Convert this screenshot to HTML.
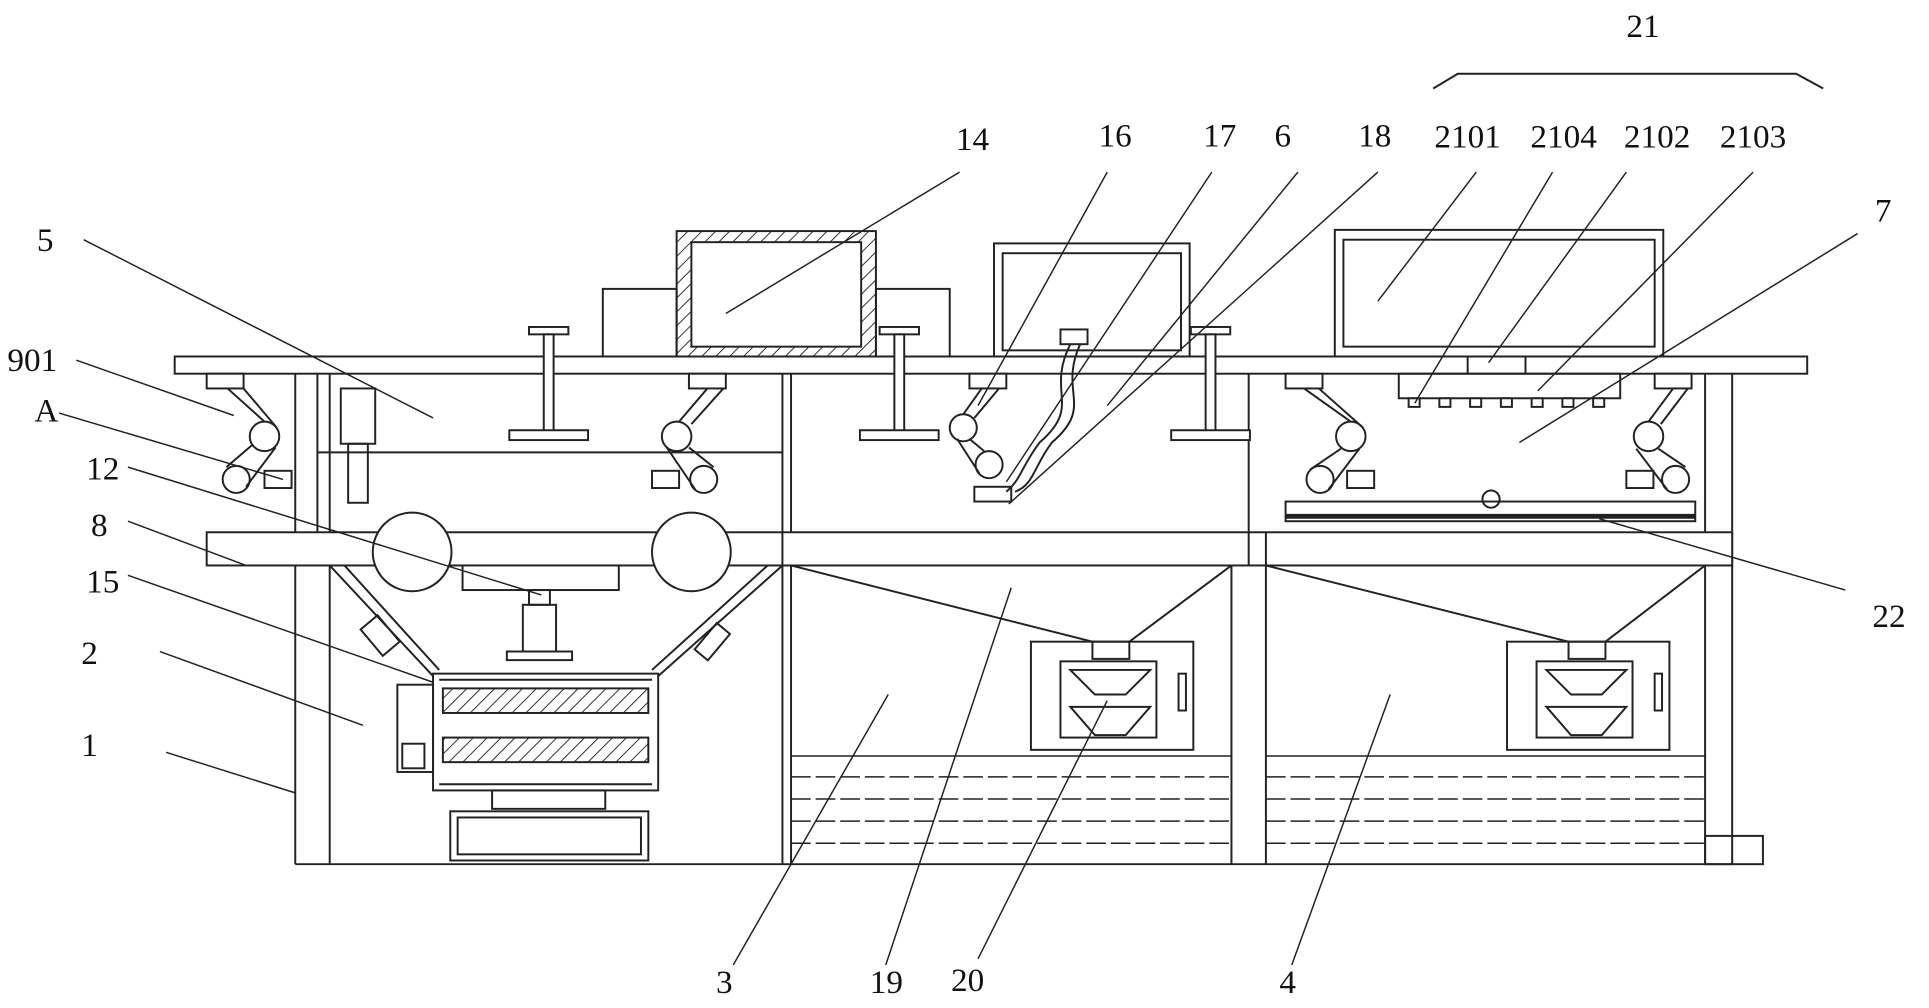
<!DOCTYPE html>
<html><head><meta charset="utf-8"><style>
html,body{margin:0;padding:0;background:#fff;}
svg{display:block;}
text{font-family:"Liberation Serif",serif;font-size:27px;fill:#111;}
</style></head><body>
<svg width="1929" height="1008" viewBox="0 0 1568 820" preserveAspectRatio="none" xmlns="http://www.w3.org/2000/svg">
<defs>
<pattern id="h" width="8" height="8" patternUnits="userSpaceOnUse" patternTransform="rotate(45)"><line x1="0" y1="0" x2="0" y2="8" stroke="#222" stroke-width="1.5"/></pattern>
</defs>
<g fill="none" stroke="#222" stroke-width="1.6">
<!-- top plate -->
<rect x="142" y="290" width="1327" height="14" fill="#fff"/>
<!-- box 14 -->
<rect x="490" y="235" width="60" height="55"/><rect x="712" y="235" width="60" height="55"/>
<rect x="550" y="188" width="162" height="102" fill="url(#h)"/>
<rect x="562" y="197" width="138" height="85" fill="#fff"/>
<!-- box 16 -->
<rect x="808" y="198" width="159" height="92"/><rect x="815" y="206" width="145" height="79"/>
<rect x="862" y="268" width="22" height="12"/>
<!-- box 2101 -->
<rect x="1085" y="187" width="267" height="103"/><rect x="1092" y="195" width="253" height="87"/>
<rect x="1137" y="304" width="180" height="20"/>
<g fill="#fff"><rect x="1145" y="324" width="9" height="7"/><rect x="1170" y="324" width="9" height="7"/><rect x="1195" y="324" width="9" height="7"/><rect x="1220" y="324" width="9" height="7"/><rect x="1245" y="324" width="9" height="7"/><rect x="1270" y="324" width="9" height="7"/><rect x="1295" y="324" width="9" height="7"/></g>
<line x1="1193" y1="290" x2="1193" y2="304"/><line x1="1240" y1="290" x2="1240" y2="304"/>
<!-- frame -->
<line x1="240" y1="304" x2="240" y2="703"/><line x1="268" y1="304" x2="268" y2="703"/>
<line x1="258" y1="304" x2="258" y2="433"/>
<line x1="636" y1="304" x2="636" y2="703"/><line x1="643" y1="304" x2="643" y2="703"/>
<line x1="1015" y1="304" x2="1015" y2="433"/>
<line x1="1001" y1="460" x2="1001" y2="703"/><line x1="1029" y1="460" x2="1029" y2="703"/>
<line x1="1386" y1="304" x2="1386" y2="703"/><line x1="1408" y1="304" x2="1408" y2="703"/>
<line x1="240" y1="703" x2="1408" y2="703"/>
<rect x="1386" y="680" width="47" height="23"/>
<line x1="258" y1="368" x2="636" y2="368"/>
<!-- rail -->
<rect x="168" y="433" width="1240" height="27" fill="#fff"/>
<line x1="636" y1="433" x2="636" y2="460"/><line x1="1015" y1="433" x2="1015" y2="460"/><line x1="1029" y1="433" x2="1029" y2="460"/>
<circle cx="335" cy="449" r="32" fill="#fff"/><circle cx="562" cy="449" r="32" fill="#fff"/>
<!-- cylinders at top -->
<g fill="#fff">
<rect x="430" y="266" width="32" height="6"/><rect x="442" y="272" width="8" height="80"/><rect x="414" y="350" width="64" height="8"/>
<rect x="715" y="266" width="32" height="6"/><rect x="727" y="272" width="8" height="80"/><rect x="699" y="350" width="64" height="8"/>
<rect x="968" y="266" width="32" height="6"/><rect x="980" y="272" width="8" height="80"/><rect x="952" y="350" width="64" height="8"/>
</g>
<!-- cylinder 5 left -->
<rect x="277" y="316" width="28" height="45"/><rect x="283" y="361" width="16" height="48"/>
<!-- arms -->
<g fill="#fff">
<rect x="168" y="304" width="30" height="12"/><circle cx="215" cy="355" r="12"/><circle cx="192" cy="390" r="11"/><rect x="215" y="383" width="22" height="14"/>
<rect x="560" y="304" width="30" height="12"/><circle cx="550" cy="355" r="12"/><circle cx="572" cy="390" r="11"/><rect x="530" y="383" width="22" height="14"/>
<rect x="788" y="304" width="30" height="12"/><circle cx="783" cy="348" r="11"/><circle cx="804" cy="378" r="11"/><rect x="792" y="396" width="30" height="12"/>
<rect x="1045" y="304" width="30" height="12"/><circle cx="1098" cy="355" r="12"/><circle cx="1073" cy="390" r="11"/><rect x="1095" y="383" width="22" height="14"/>
<rect x="1345" y="304" width="30" height="12"/><circle cx="1340" cy="355" r="12"/><circle cx="1362" cy="390" r="11"/><rect x="1322" y="383" width="22" height="14"/>
</g>
<path d="M185 316 L215 343 M198 316 L225 348 M205 362 L184 380 M224 364 L200 396"/>
<path d="M575 316 L552 343 M588 316 L562 345 M560 364 L580 380 M542 364 L565 398"/>
<path d="M798 316 L783 337 M812 316 L792 340 M788 357 L800 367 M778 357 L796 385"/>
<path d="M1060 316 L1098 343 M1072 316 L1108 348 M1090 365 L1065 382 M1105 365 L1080 398"/>
<path d="M1360 316 L1340 343 M1372 316 L1350 345 M1348 365 L1370 380 M1330 365 L1355 398"/>
<path d="M870 280 C850 320 880 330 845 360 C830 380 830 390 818 400 M878 280 C860 320 890 330 855 360 C840 380 840 395 825 400"/>
<!-- plate 22 -->
<rect x="1045" y="408" width="333" height="16"/><line x1="1045" y1="420" x2="1378" y2="420" stroke-width="4"/>
<circle cx="1212" cy="406" r="7"/>
<!-- hopper -->
<line x1="268" y1="460" x2="352" y2="550"/><line x1="280" y1="460" x2="357" y2="545"/>
<line x1="636" y1="460" x2="535" y2="550"/><line x1="624" y1="460" x2="530" y2="545"/>
<rect x="300" y="503" width="18" height="28" transform="rotate(-40 309 517)"/>
<rect x="572" y="508" width="14" height="28" transform="rotate(40 579 522)"/>
<!-- cylinder 12 -->
<rect x="376" y="460" width="127" height="20" fill="#fff"/><rect x="430" y="480" width="17" height="12"/><rect x="425" y="492" width="27" height="38"/><rect x="412" y="530" width="53" height="7"/>
<!-- crusher -->
<rect x="352" y="548" width="183" height="95" fill="#fff"/>
<path d="M357 553 H530 M357 638 H530"/>
<rect x="360" y="560" width="167" height="20" fill="url(#h)"/><rect x="360" y="600" width="167" height="20" fill="url(#h)"/>
<rect x="323" y="557" width="29" height="71"/><rect x="327" y="605" width="18" height="20"/>
<rect x="400" y="643" width="92" height="15"/><rect x="366" y="660" width="161" height="40"/><rect x="372" y="665" width="149" height="30"/>
<!-- tank diagonals -->
<line x1="643" y1="460" x2="888" y2="522"/><line x1="1001" y1="460" x2="918" y2="522"/>
<line x1="1029" y1="460" x2="1275" y2="522"/><line x1="1386" y1="460" x2="1305" y2="522"/>
<!-- tank boxes -->
<rect x="838" y="522" width="132" height="88"/><rect x="888" y="522" width="30" height="14"/>
<rect x="862" y="538" width="78" height="62"/><path d="M870 545 H935 L915 565 H890 Z M870 575 H935 L915 598 H890 Z"/><rect x="958" y="548" width="6" height="30"/>
<rect x="1225" y="522" width="132" height="88"/><rect x="1275" y="522" width="30" height="14"/>
<rect x="1249" y="538" width="78" height="62"/><path d="M1257 545 H1322 L1302 565 H1277 Z M1257 575 H1322 L1302 598 H1277 Z"/><rect x="1345" y="548" width="6" height="30"/>
<!-- water -->
<g stroke-dasharray="16 4" stroke-width="1.2">
<line x1="643" y1="615" x2="1001" y2="615" stroke-dasharray="none"/><line x1="643" y1="632" x2="1001" y2="632"/><line x1="643" y1="650" x2="1001" y2="650"/><line x1="643" y1="668" x2="1001" y2="668"/><line x1="643" y1="686" x2="1001" y2="686"/>
<line x1="1029" y1="615" x2="1386" y2="615" stroke-dasharray="none"/><line x1="1029" y1="632" x2="1386" y2="632"/><line x1="1029" y1="650" x2="1386" y2="650"/><line x1="1029" y1="668" x2="1386" y2="668"/><line x1="1029" y1="686" x2="1386" y2="686"/>
</g>
<!-- brace 21 -->
<path d="M1165 72 L1185 60 H1460 L1482 72"/>
<!-- leaders -->
<g stroke-width="1.2">
<path d="M68 195 L352 340"/><path d="M62 293 L190 338"/><path d="M48 336 L230 390"/>
<path d="M104 380 L440 484"/><path d="M104 424 L200 460"/><path d="M104 468 L352 555"/><path d="M130 530 L295 590"/><path d="M135 612 L240 645"/>
<path d="M780 140 L590 255"/><path d="M900 140 L795 330"/><path d="M985 140 L818 392"/><path d="M1055 140 L900 330"/><path d="M1120 140 L820 410"/>
<path d="M1200 140 L1120 245"/><path d="M1262 140 L1150 328"/><path d="M1322 140 L1210 295"/><path d="M1425 140 L1250 318"/><path d="M1510 190 L1235 360"/>
<path d="M1500 480 L1300 422"/>
<path d="M596 785 L722 565"/><path d="M720 785 L822 478"/><path d="M795 780 L900 570"/><path d="M1050 785 L1130 565"/>
</g>
</g>
<g>
<text x="1322" y="30">21</text>
<text x="777" y="122">14</text><text x="893" y="119">16</text><text x="978" y="119">17</text><text x="1036" y="119">6</text><text x="1104" y="119">18</text>
<text x="1166" y="120">2101</text><text x="1244" y="120">2104</text><text x="1320" y="120">2102</text><text x="1398" y="120">2103</text>
<text x="1524" y="180">7</text>
<text x="30" y="204">5</text><text x="6" y="302">901</text><text x="28" y="343">A</text><text x="70" y="390">12</text><text x="74" y="436">8</text><text x="70" y="482">15</text><text x="66" y="540">2</text><text x="66" y="615">1</text>
<text x="1522" y="510">22</text>
<text x="582" y="808">3</text><text x="707" y="808">19</text><text x="773" y="806">20</text><text x="1040" y="808">4</text>
</g>
</svg>
</body></html>
